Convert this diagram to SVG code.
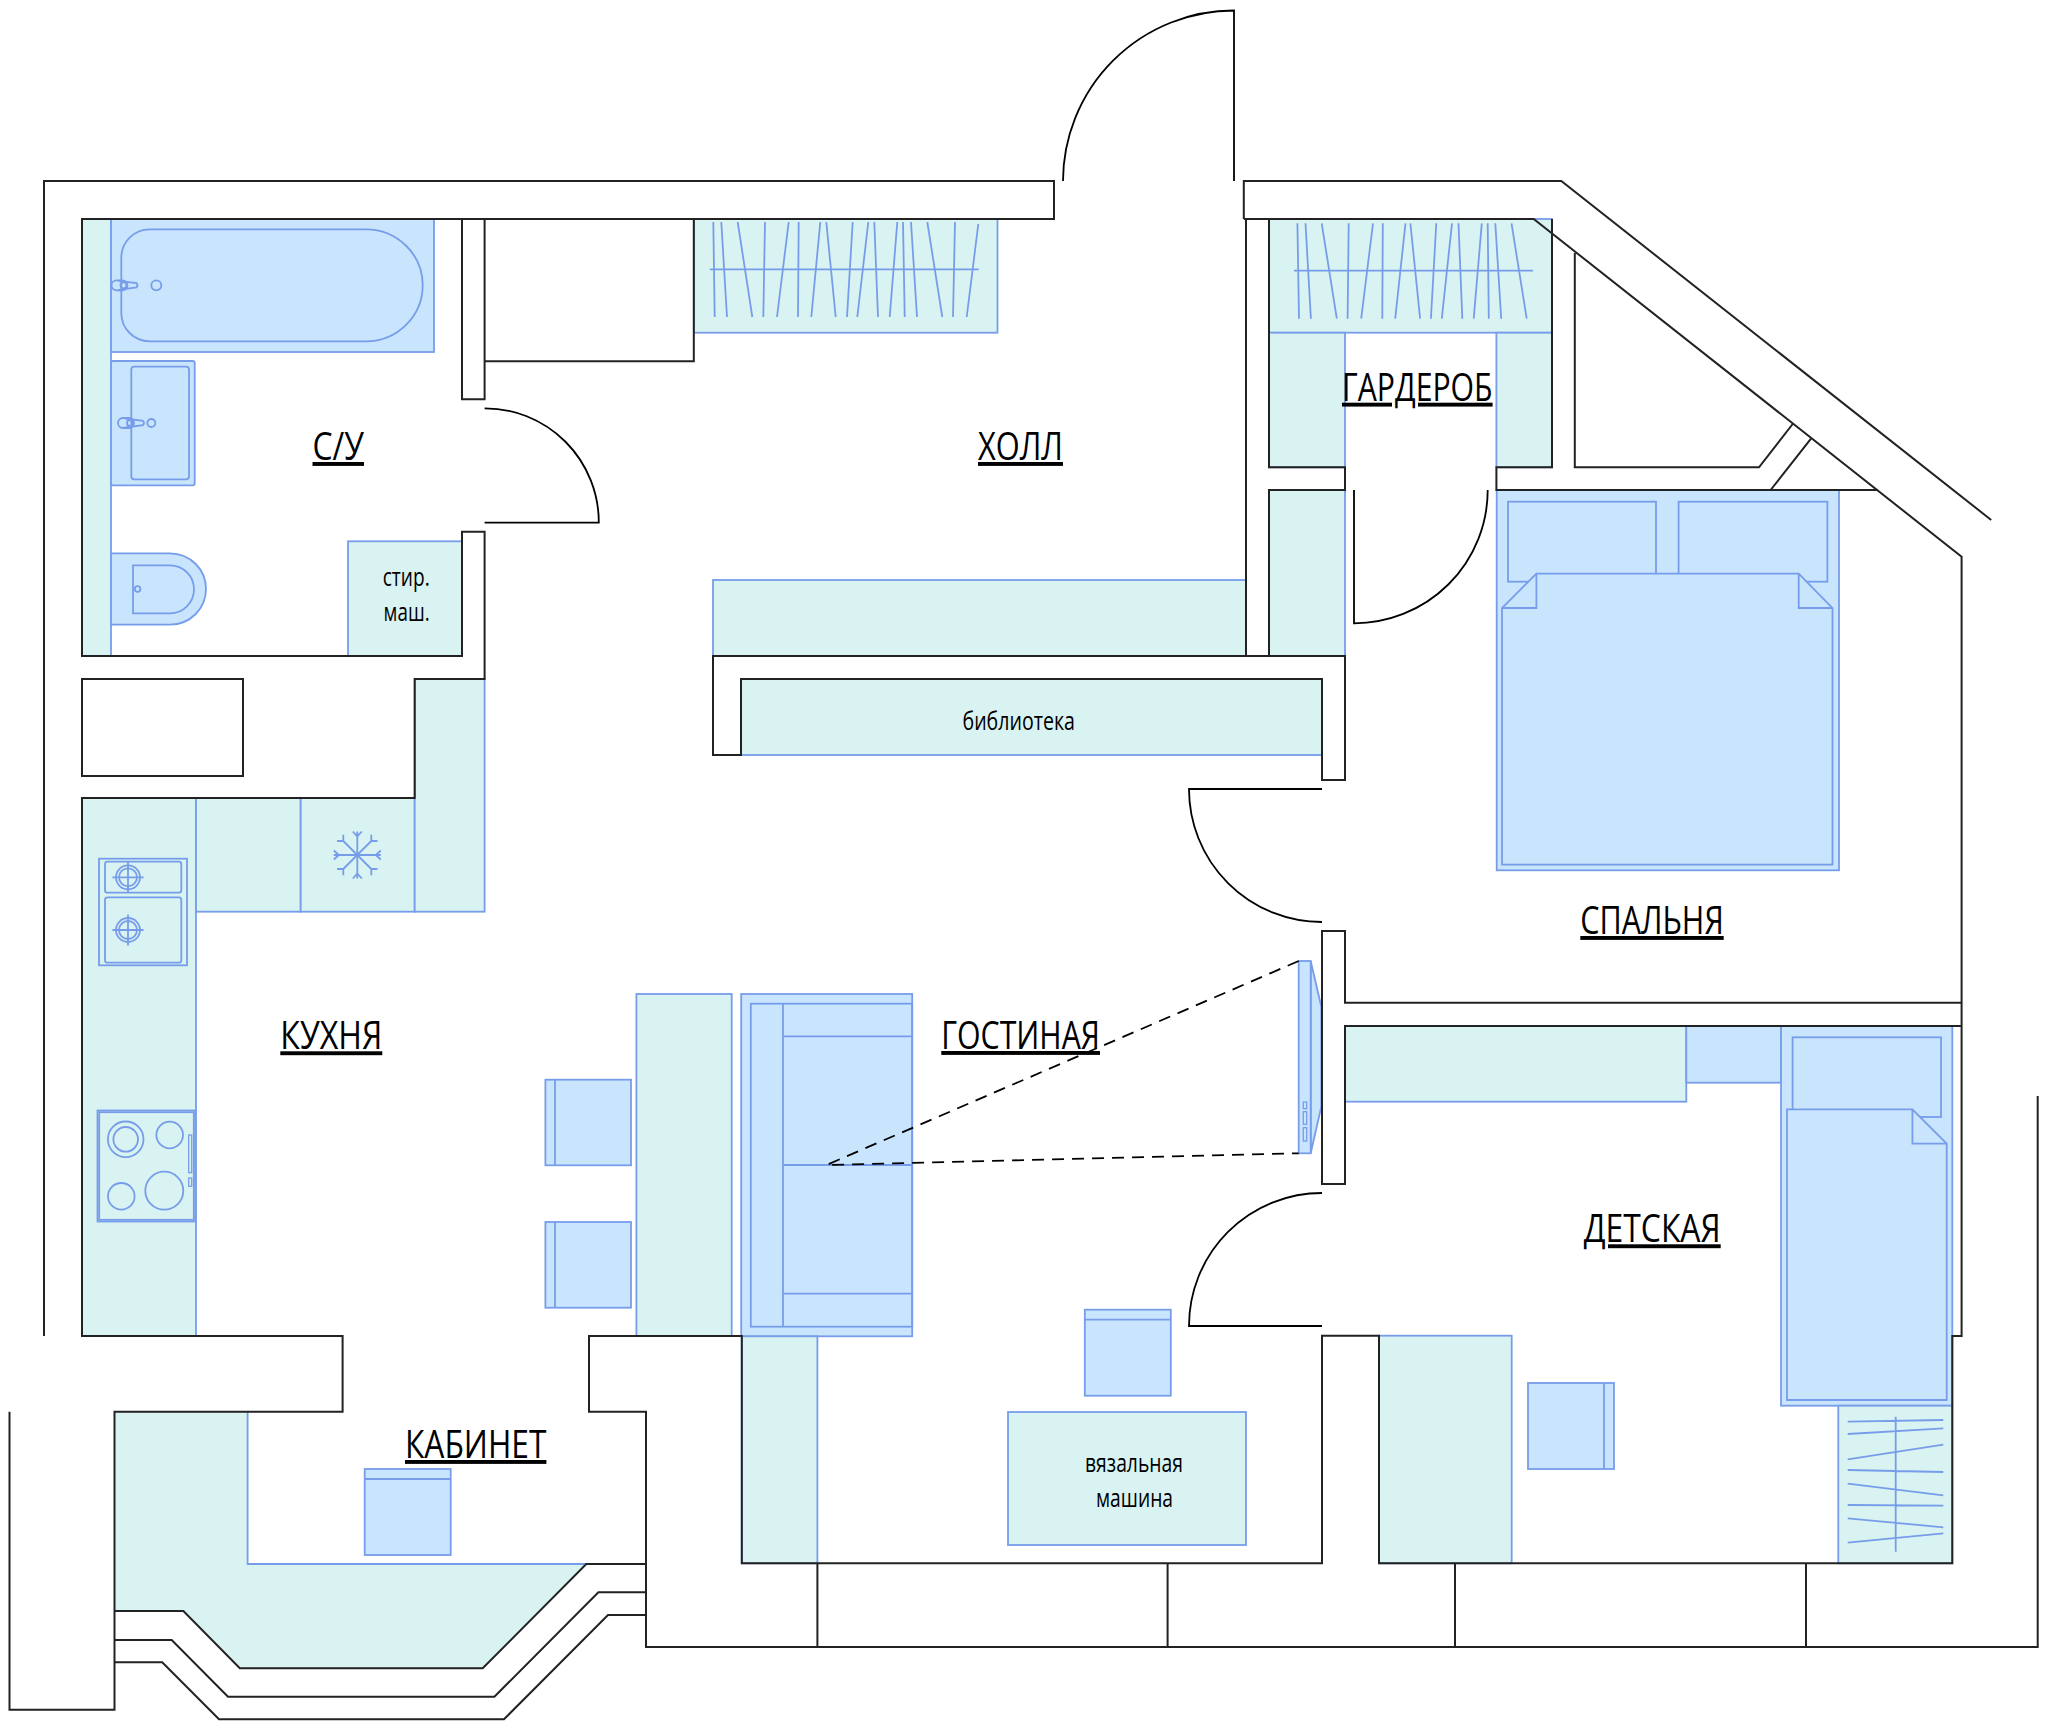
<svg xmlns="http://www.w3.org/2000/svg" width="2048" height="1730" viewBox="0 0 2048 1730">
<defs>
<style>
.t{fill:#d9f3f2;stroke:#779dea;stroke-width:1.8}
.b{fill:#c9e5fd;stroke:#779dea;stroke-width:1.8}
.n{fill:none;stroke:#779dea;stroke-width:1.8}
.o{fill:none;stroke:#779dea;stroke-width:1.3}
.k{fill:none;stroke:#222;stroke-width:2}
.d{fill:none;stroke:#000;stroke-width:1.8}
.f{fill:none;stroke:#000;stroke-width:1.8;stroke-dasharray:12 8}
.lab,.sm{font-family:"Open Sans","Noto Sans","Liberation Sans",sans-serif;fill:#000}
.lab{font-size:39px;text-decoration:underline;text-decoration-skip-ink:none}
.sm{font-size:26px}
</style>
<g id="chairtop"><rect class="b" x="0" y="0" width="86" height="86"/><line class="n" x1="0" y1="10" x2="86" y2="10"/></g>
<g id="burner"><circle class="n" r="12"/><circle class="n" r="9"/><path class="n" d="M-15.6 0H15.6M0 -15.6V15.6"/></g>
<g id="faucet"><rect class="n" x="-12" y="-5" width="16" height="10" rx="5"/><path class="n" d="M-5 -4.5L13 -2.2Q15 0 13 2.2L-5 4.5"/><circle class="n" cx="0" cy="0" r="3"/></g>
<g id="arm"><path class="n" d="M0 0V-23.5M0 -18.5L-4.5 -23.5M0 -18.5L4.5 -23.5"/></g>
<g id="armd"><path class="n" d="M0 0V-19.8M0 -19.8L-4.4 -24.2M0 -19.8L4.4 -24.2"/></g>
</defs>
<rect width="2048" height="1730" fill="#fff"/>

<g id="bathroom">
<rect class="t" x="82" y="219" width="29" height="437"/>
<g id="bath"><rect class="b" x="111" y="219" width="323" height="133"/>
<path class="n" d="M121.3 257.5A28.3 28.3 0 0 1 149.6 229.3H366A56.8 56 0 0 1 422.7 285.3A56.8 56 0 0 1 366 341.3H149.6A28.3 28.3 0 0 1 121.3 313Z"/>
<use href="#faucet" x="123.5" y="285.3"/><circle class="n" cx="156.3" cy="285.3" r="5"/></g>
<g id="sink"><rect class="b" x="111" y="361" width="83.7" height="124.3" rx="2"/>
<rect class="n" x="131.3" y="366.7" width="57.7" height="112.6" rx="3"/>
<use href="#faucet" x="130" y="423"/><circle class="n" cx="151.3" cy="423" r="4"/></g>
<g id="toilet"><path class="b" d="M111 553.3H170A36 35.7 0 0 1 206 589A36 35.7 0 0 1 170 624.7H111Z"/>
<path class="n" d="M133 565.3H170A24 24 0 0 1 194 589.3A24 24 0 0 1 170 613.3H133Z"/>
<circle class="n" cx="137.6" cy="589" r="2.8"/></g>
<g id="washer"><rect class="t" x="348" y="541.3" width="114" height="114.7"/>
<text class="sm" x="382.7" y="586" textLength="47" lengthAdjust="spacingAndGlyphs">стир.</text>
<text class="sm" x="383.6" y="621" textLength="46" lengthAdjust="spacingAndGlyphs">маш.</text></g>
</g>

<g id="hall-wardrobe">
<rect class="t" x="694" y="219" width="303.5" height="113.7"/>
<path class="n" d="M709.7 269.3H978.7M713.3 222L714.7 317M721.3 222L727 317M737.7 222L752.3 317M765 222L763.3 317M788.7 222L777 317M798.7 222L798 317M820.3 222L811.3 317M826.3 222L835.7 317M852.7 222L847 317M868.3 222L857.3 317M874.3 222L878 317M897.3 222L889.7 317M903 222L904.7 317M911 222L917 317M927.3 222L942.3 317M955 222L953 317M978.3 224L966.7 317"/>
</g>

<g id="dressing-room">
<rect class="t" x="1269" y="219" width="283" height="113.7"/>
<rect class="t" x="1269" y="332.7" width="76" height="134.6"/>
<rect class="t" x="1496.4" y="332.7" width="55.6" height="134.6"/>
<rect class="t" x="1269" y="490" width="76" height="166"/>
<path class="n" d="M1294 270.7H1533M1297.4 223.3L1299 318.7M1305.5 223.3L1310.9 318.7M1321.7 223.3L1336.8 318.7M1348.7 223.3L1347.6 318.7M1373 223.3L1361.2 318.7M1382.8 223.3L1382.3 318.7M1405.5 223.3L1395.2 318.7M1410.4 223.3L1420.1 318.7M1436.3 223.3L1430.9 318.7M1452 223.3L1441.8 318.7M1458.5 223.3L1462.3 318.7M1481.8 223.3L1473.7 318.7M1487.7 223.3L1488.8 318.7M1495.3 223.3L1501.2 318.7M1511.5 223.3L1526.7 318.7"/>
</g>

<g id="hall-cabinet"><rect class="t" x="713" y="580" width="533" height="76"/></g>
<g id="library"><rect class="t" x="741" y="679" width="581" height="76"/>
<text class="sm" x="962.5" y="730" textLength="112.5" lengthAdjust="spacingAndGlyphs">библиотека</text></g>

<g id="kitchen-units">
<rect class="t" x="82" y="798" width="114" height="538"/>
<rect class="t" x="196" y="798" width="104.7" height="113.7"/>
<rect class="t" x="300.7" y="798" width="114" height="113.7"/>
<rect class="t" x="414.7" y="679" width="69.9" height="232.7"/>
<g id="kitchen-sink"><rect class="n" x="99" y="858.7" width="88" height="106.6"/>
<rect class="n" x="105" y="861.7" width="76.3" height="31" rx="2.5"/>
<rect class="n" x="105" y="897.3" width="76.3" height="65.4" rx="2.5"/>
<use href="#burner" x="128" y="877.3"/><use href="#burner" x="128" y="930"/></g>
<g id="stove"><rect class="n" x="97.5" y="1110.5" width="97.8" height="111"/>
<rect class="n" x="99.2" y="1112.2" width="94.6" height="107.6"/>
<circle class="n" cx="125.7" cy="1139.3" r="17.8"/><circle class="n" cx="125.7" cy="1139.3" r="12.3"/>
<circle class="n" cx="169.7" cy="1135" r="13.3"/><circle class="n" cx="121.3" cy="1196.3" r="13.3"/><circle class="n" cx="164.3" cy="1190.7" r="19"/>
<rect class="o" x="188.7" y="1135" width="3" height="37.7"/><rect class="o" x="188.7" y="1178" width="3" height="8.3"/></g>
<g id="fridge-snowflake" transform="translate(357.3 855)">
<use href="#arm"/><use href="#armd" transform="rotate(45)"/><use href="#arm" transform="rotate(90)"/><use href="#armd" transform="rotate(135)"/><use href="#arm" transform="rotate(180)"/><use href="#armd" transform="rotate(225)"/><use href="#arm" transform="rotate(270)"/><use href="#armd" transform="rotate(315)"/>
</g>
</g>

<g id="dining">
<rect class="t" x="636.4" y="994" width="95.3" height="342"/>
<g id="chair-1"><rect class="b" x="545.4" y="1079.7" width="85.6" height="85.6"/><line class="n" x1="555" y1="1079.7" x2="555" y2="1165.3"/></g>
<g id="chair-2"><rect class="b" x="545.4" y="1222" width="85.6" height="85.7"/><line class="n" x1="555" y1="1222" x2="555" y2="1307.7"/></g>
</g>

<g id="sofa">
<rect class="b" x="741.2" y="994" width="171" height="342.3"/>
<rect class="n" x="750.8" y="1003.7" width="161.4" height="323"/>
<path class="n" d="M783 1003.7V1326.7M783 1036.3H912.2M783 1165H912.2M783 1293.7H912.2"/>
</g>
<g id="living-cabinet"><rect class="t" x="741.8" y="1336.3" width="75.6" height="227"/></g>

<g id="tv">
<path class="b" d="M1310.7 961L1321.3 1006.7V1106.7L1310.7 1153.3Z"/>
<rect class="b" x="1298.7" y="961" width="12" height="192.3"/>
<rect class="o" x="1303.3" y="1102" width="3.4" height="6.7"/><rect class="o" x="1303.3" y="1111.7" width="3.4" height="12.6"/><rect class="o" x="1303.3" y="1127.7" width="3.4" height="13.3"/>
</g>

<g id="bedroom-bed">
<rect class="b" x="1496.7" y="490" width="342.3" height="380.3"/>
<rect class="b" x="1508" y="501.7" width="148" height="80"/>
<rect class="b" x="1678.6" y="501.7" width="148.8" height="80"/>
<path class="b" d="M1536.4 573.7H1798.7L1832.5 608V864.7H1502V608Z"/>
<path class="n" d="M1536.4 573.7V608H1502M1798.7 573.7V608H1832.5"/>
</g>

<g id="children-furniture">
<rect class="t" x="1345" y="1026" width="341.3" height="75.7"/>
<rect class="b" x="1686.3" y="1026" width="94.7" height="56.7"/>
<rect class="b" x="1781" y="1026" width="171.3" height="379.7"/>
<rect class="b" x="1792.6" y="1037.3" width="148.4" height="79.7"/>
<path class="b" d="M1787 1109.3H1912.4L1946.7 1143.7V1400H1787Z"/>
<path class="n" d="M1912.4 1109.3V1143.7H1946.7"/>
<g id="desk"><rect class="t" x="1379" y="1335.7" width="132.7" height="227.6"/></g>
<g id="child-chair"><rect class="b" x="1528" y="1383" width="86" height="86"/><line class="n" x1="1604" y1="1383" x2="1604" y2="1469"/></g>
<g id="child-wardrobe"><rect class="t" x="1838.3" y="1405.7" width="114" height="157.6"/>
<path class="n" d="M1895.7 1416.7V1551.7M1847.7 1421.7L1943.3 1420M1847.7 1434L1943.3 1428.3M1847.7 1459.3L1943.3 1444.7M1847.7 1470L1943.3 1472M1847.7 1483.7L1943.3 1495.3M1847.7 1505L1943.3 1505.7M1847.7 1518.3L1943.3 1527.3M1847.7 1542.7L1943.3 1533.3"/></g>
</g>

<g id="knitting">
<use href="#chairtop" x="1084.8" y="1309.7"/>
<g id="knitting-machine"><rect class="t" x="1008" y="1412" width="238" height="133"/>
<text class="sm" x="1085" y="1471.5" textLength="98" lengthAdjust="spacingAndGlyphs">вязальная</text>
<text class="sm" x="1096" y="1507" textLength="77" lengthAdjust="spacingAndGlyphs">машина</text></g>
</g>

<g id="study">
<path d="M114.5 1411.7H247.6V1564H586.3L482.7 1668.3H239.8L183.4 1611H114.5Z" fill="#d9f3f2"/>
<path class="n" d="M247.6 1411.7V1564H586.3"/>
<use href="#chairtop" x="364.7" y="1469"/>
</g>

<g id="walls">
<path class="k" d="M44 1336V181H1054V219H82V656H462V531.7H484.6V679H414.7V798H82V1336H342.6V1411.7H114.5V1709.7H9.5V1411.7"/>
<path class="k" d="M462 219H484.6V399.3H462ZM484.6 361.3H693.8V219"/>
<path class="k" d="M82 679H243V776H82Z"/>
<path class="k" d="M1243.8 219V181H1561.3L1991.2 520M1243.8 219H1533.7L1961.6 556.7V1336H1952.3V1563.3H1379V1335.7H1322V1563.3H741.8V1336H589V1411.7H646V1647H2037.7V1096"/>
<path class="k" d="M1246 219V656M1269 219V467.3H1345V490H1269V656M713 656H1345V780H1322V679H741V755H713Z"/>
<path class="k" d="M1552 219V467.3H1496.4V490H1877.7M1574.8 253V467.3H1759L1792.7 424M1811 438.7L1770.6 490"/>
<path class="k" d="M1961.6 1002.7H1345V931H1322V1184H1345V1026H1961.6"/>
<path class="k" d="M817.4 1563.3V1647M1167.6 1563.3V1647M1455 1563.3V1647M1806 1563.3V1647"/>
<path class="k" d="M114.5 1611H183.4L239.8 1668.3H482.7L586.3 1564H646M114.5 1640H171.7L228 1696.7H494.4L598.4 1592.3H646M114.5 1662.3H162.2L219 1719.3H504L608 1615H646"/>
</g>

<g id="doors">
<path class="d" d="M1234 181V10.5A171 171 0 0 0 1063 181"/>
<path class="d" d="M484.6 408.3A114 114 0 0 1 598.8 522.7H484.6"/>
<path class="d" d="M1354 490V623.3A133.7 133.3 0 0 0 1487.7 490"/>
<path class="d" d="M1322 789H1189A133 133 0 0 0 1322 922"/>
<path class="d" d="M1322 1193A133 133 0 0 0 1189 1326H1322"/>
</g>

<g id="connectors">
<path class="f" d="M1298.7 961L826.5 1165L1298.7 1153.3"/>
</g>

<g id="labels">
<text class="lab" x="312.5" y="460" textLength="51.5" lengthAdjust="spacingAndGlyphs">С/У</text>
<text class="lab" x="978" y="460" textLength="85" lengthAdjust="spacingAndGlyphs">ХОЛЛ</text>
<text class="lab" x="1342" y="400.7" textLength="150.6" lengthAdjust="spacingAndGlyphs">ГАРДЕРОБ</text>
<text class="lab" x="1580.3" y="934" textLength="143.4" lengthAdjust="spacingAndGlyphs">СПАЛЬНЯ</text>
<text class="lab" x="1583.7" y="1242.3" textLength="137" lengthAdjust="spacingAndGlyphs">ДЕТСКАЯ</text>
<text class="lab" x="280.3" y="1049.3" textLength="102" lengthAdjust="spacingAndGlyphs">КУХНЯ</text>
<text class="lab" x="941.3" y="1049" textLength="158.7" lengthAdjust="spacingAndGlyphs">ГОСТИНАЯ</text>
<text class="lab" x="405" y="1458" textLength="141.4" lengthAdjust="spacingAndGlyphs">КАБИНЕТ</text>
</g>
</svg>
